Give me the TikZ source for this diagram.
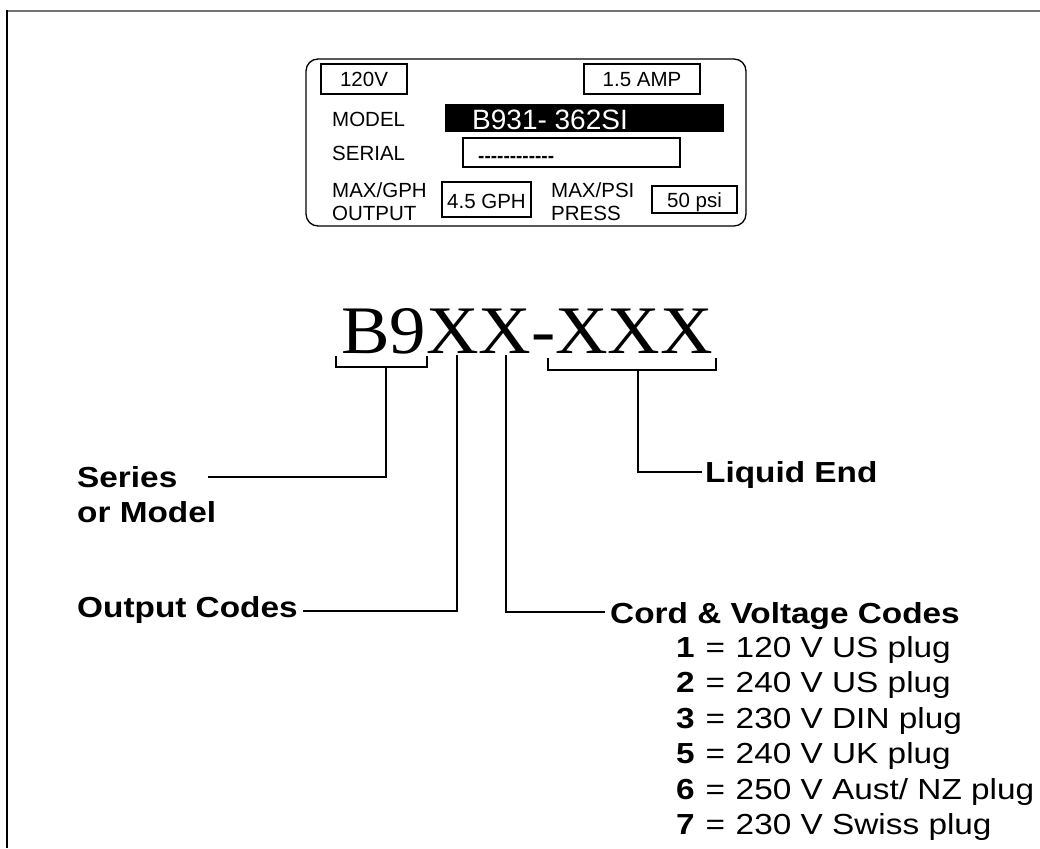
\documentclass[tikz,border=0pt]{standalone}
\usepackage{fontspec}
\setmainfont{Liberation Sans}
\newfontfamily\bigserif{Liberation Serif}[FakeStretch=1.07]
\newfontfamily\lowfont{Liberation Sans}[FakeStretch=1.15]
\tikzset{
  lbltxt/.style={inner sep=0pt, font=\fontsize{20.5}{24}\selectfont},
  lowtxt/.style={inner sep=0pt, anchor=base west, font=\lowfont\fontsize{29}{34}\selectfont},
  lowbold/.style={lowtxt, font=\lowfont\bfseries\fontsize{29}{34}\selectfont},
  fieldbox/.style={draw=black, line width=1.2pt},
  conn/.style={draw=black, line width=2pt},
}
\newcommand\dsh{-\kern0pt}
\newcommand\eqs{\kern1.5pt=\kern1.5pt}
\begin{document}
\begin{tikzpicture}[x=1pt,y=-1pt]
\useasboundingbox (0,0) rectangle (1040,848);
% frame
\draw[line width=2pt, draw=black!55] (6,11) -- (1040,11);
\draw[line width=2pt] (6.5,10) -- (6.5,848);

% nameplate
\draw[line width=1.3pt, rounded corners=12pt] (306,59) rectangle (746,226);
\draw[fieldbox] (321,64) rectangle (407,94);
\node[lbltxt, anchor=base] (v120) at (364,87) {120V};
\draw[fieldbox] (584,64) rectangle (700,94);
\node[lbltxt, anchor=base] (amp) at (642,87) {1.5 AMP};
\node[lbltxt, anchor=base west] (model) at (332,126) {MODEL};
\fill[black] (445,104) rectangle (724,132);
\node[inner sep=0pt, anchor=base west, text=white, font=\fontsize{28}{32}\selectfont] (mnum) at (472,129) {B931- 362SI};
\node[lbltxt, anchor=base west] (serial) at (332,160) {SERIAL};
\draw[fieldbox] (463,138) rectangle (680,167);
\node[lbltxt, anchor=base west, font=\bfseries\fontsize{19}{24}\selectfont] (sdash) at (478,162) {\dsh\dsh\dsh\dsh\dsh\dsh\dsh\dsh\dsh\dsh\dsh\dsh};
\node[lbltxt, anchor=base west] (maxgph) at (332,197) {MAX/GPH};
\node[lbltxt, anchor=base west] (outp) at (332,220) {OUTPUT};
\draw[fieldbox] (442,182) rectangle (531,217);
\node[lbltxt, anchor=base] (gph) at (486.5,208) {4.5 GPH};
\node[lbltxt, anchor=base west] (maxpsi) at (551,197) {MAX/PSI};
\node[lbltxt, anchor=base west] (press) at (551,220) {PRESS};
\draw[fieldbox] (652,186) rectangle (737,213);
\node[lbltxt, anchor=base] (psi) at (694.5,207) {50 psi};

% big code
\node[inner sep=0pt, anchor=base west, font=\bigserif\fontsize{68}{80}\selectfont] (code) at (341,353) {B9XX-XXX};

% coordinates
\coordinate (b1) at (336,356); \coordinate (b2) at (336,367);
\coordinate (b3) at (427,367); \coordinate (b4) at (427,356);
\coordinate (bs) at (386,367); \coordinate (bc) at (386,477); \coordinate (be) at (208,477);
\coordinate (o1) at (457,355); \coordinate (oc) at (457,611); \coordinate (oe) at (303,611);
\coordinate (c1) at (506,355); \coordinate (cc) at (506,612); \coordinate (ce) at (605,612);
\coordinate (x1) at (548,358); \coordinate (x2) at (548,370);
\coordinate (x3) at (716,370); \coordinate (x4) at (716,358);
\coordinate (xs) at (638,370); \coordinate (xc) at (638,472); \coordinate (xe) at (702,472);

\draw[conn] (b1) -- (b2) -- (b3) -- (b4);
\draw[conn] (bs) -- (bc) -- (be);
\draw[conn] (o1) -- (oc) -- (oe);
\draw[conn] (c1) -- (cc) -- (ce);
\draw[conn] (x1) -- (x2) -- (x3) -- (x4);
\draw[conn] (xs) -- (xc) -- (xe);

% labels
\node[lowbold] (series) at (77,487) {Series};
\node[lowbold] (ormodel) at (77,522) {or Model};
\node[lowbold] (output) at (77,617) {Output Codes};
\node[lowbold] (liquid) at (705,482) {Liquid End};
\node[lowbold] (cord) at (610,623) {Cord \& Voltage Codes};
\node[lowtxt] (r1) at (676,657) {\textbf{1} \eqs{} 120 V US plug};
\node[lowtxt] (r2) at (676,692.5) {\textbf{2} \eqs{} 240 V US plug};
\node[lowtxt] (r3) at (676,728) {\textbf{3} \eqs{} 230 V DIN plug};
\node[lowtxt] (r5) at (676,763.5) {\textbf{5} \eqs{} 240 V UK plug};
\node[lowtxt] (r6) at (676,799) {\textbf{6} \eqs{} 250 V Aust/ NZ plug};
\node[lowtxt] (r7) at (676,834.5) {\textbf{7} \eqs{} 230 V Swiss plug};
\end{tikzpicture}
\end{document}
